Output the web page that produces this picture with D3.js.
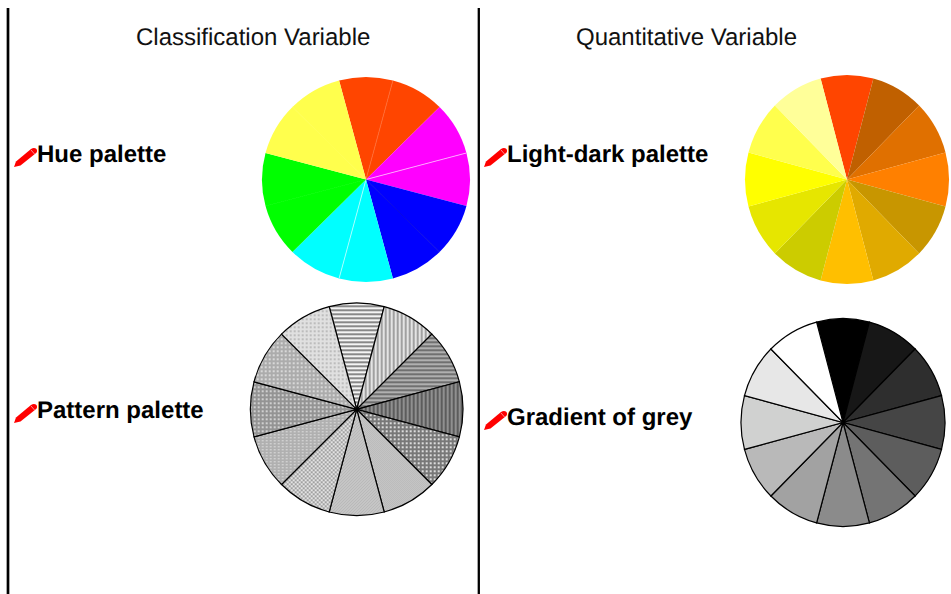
<!DOCTYPE html>
<html lang="en">

<head>
    <meta charset="utf-8">
    <title>palettes</title>
    <script src="https://cdnjs.cloudflare.com/ajax/libs/d3/7.8.5/d3.min.js"></script>
    <style>
        html, body { margin: 0; padding: 0; background: #fff; }
        svg { display: block; font-family: "Liberation Sans", Arial, sans-serif; text-rendering: geometricPrecision; }
        .title { font-size: 24px; fill: #111; }
        .label { font-size: 24px; font-weight: bold; fill: #000; }
    </style>
</head>

<body>
    <script>
        var slices = ['s1', 's2', 's3', 's4', 's5', 's6', 's7', 's8', 's9', 's10', 's11', 's12'];
        var sliceValues = [1, 1, 1, 1, 1, 1, 1, 1, 1, 1, 1, 1];
        var headings = ['Classification Variable', 'Quantitative Variable'];
        var paletteNames = ['Hue palette', 'Pattern palette', 'Light-dark palette', 'Gradient of grey'];

        var hueColors = ['#ff4500', '#ff4500', '#ff00ff', '#ff00ff', '#0000ff', '#0000ff',
            '#00ffff', '#00ffff', '#00ff00', '#00ff00', '#ffff4d', '#ffff4d'];
        // colour of the thin seam on the leading edge of each slice in the hue pie
        var hueSeams = [null, '#ff6a30', null, '#ffb0ff', null, '#0000e0',
            null, '#b0ffff', null, '#00ff00', null, '#ffff4d'];
        var lightDarkColors = ['#ff4500', '#c06000', '#e07000', '#ff8000', '#c89600', '#e0aa00',
            '#ffbf00', '#cccc00', '#e6e600', '#ffff00', '#ffff4d', '#ffff99'];
        var greyColors = ['#000000', '#171717', '#2e2e2e', '#454545', '#5d5d5d', '#747474',
            '#8b8b8b', '#a2a2a2', '#b9b9b9', '#d0d1d0', '#e7e7e7', '#ffffff'];

        var width = 951, height = 594;
        var svg = d3.select('body').append('svg')
            .attr('width', width)
            .attr('height', height);
        var defs = svg.append('defs');

        // little tiles for the pattern pie
        function tile(id, w, h, bg, fg, cells) {
            var p = defs.append('pattern')
                .attr('id', id)
                .attr('patternUnits', 'userSpaceOnUse')
                .attr('width', w)
                .attr('height', h);
            p.append('rect').attr('width', w).attr('height', h).attr('fill', bg);
            cells.forEach(function (c) {
                p.append('rect')
                    .attr('x', c[0]).attr('y', c[1])
                    .attr('width', c[2]).attr('height', c[3])
                    .attr('fill', fg);
            });
        }
        tile('p0', 1, 4, '#f4f4f4', '#888888', [[0, 0, 1, 2]]);
        tile('p1', 4, 1, '#e4e4e4', '#a0a0a0', [[0, 0, 2, 1]]);
        tile('p2', 1, 4, '#b0b0b0', '#707070', [[0, 0, 1, 2]]);
        tile('p3', 4, 1, '#909090', '#5c5c5c', [[0, 0, 2, 1]]);
        tile('p4', 4, 4, '#787878', '#dcdcdc', [[1, 1, 2, 2]]);
        tile('p5', 2, 2, '#d8d8d8', '#a8a8a8', [[0, 0, 1, 1], [1, 1, 1, 1]]);
        tile('p6', 3, 3, '#cccccc', '#acacac', [[0, 2, 1, 1], [1, 1, 1, 1], [2, 0, 1, 1]]);
        tile('p7', 4, 4, '#e4e4e4', '#a0a0a0', [[0, 0, 2, 2], [2, 2, 2, 2]]);
        tile('p8', 4, 3, '#b0b0b0', '#dcdcdc', [[1, 1, 2, 1]]);
        tile('p9', 4, 4, '#949494', '#d0d0d0', [[1, 1, 2, 2]]);
        tile('p10', 4, 4, '#acacac', '#d8d8d8', [[0, 1, 2, 2]]);
        tile('p11', 4, 4, '#e0e0e0', '#bcbcbc', [[1, 1, 2, 2]]);
        var patternFills = d3.range(12).map(function (i) { return 'url(#p' + i + ')'; });

        var pie = d3.pie().sort(null).value(function (d) { return d; })
            .startAngle(-Math.PI / 12)
            .endAngle(2 * Math.PI - Math.PI / 12);

        function drawPie(cx, cy, rx, ry, fills, stroke, seams) {
            var scale = d3.scaleOrdinal().domain(slices).range(fills);
            var arc = d3.arc().innerRadius(0).outerRadius(rx);
            var g = svg.append('g')
                .attr('transform', 'translate(' + cx + ',' + cy + ') scale(1,' + (ry / rx) + ')');
            var arcs = pie(sliceValues);
            g.selectAll('path.slice')
                .data(arcs)
                .enter().append('path')
                .attr('class', 'slice')
                .attr('d', arc)
                .attr('fill', function (d, i) { return scale(slices[i]); })
                .attr('stroke', stroke)
                .attr('stroke-width', stroke === 'none' ? 0 : 1.2);
            if (seams) {
                var seam = d3.lineRadial();
                g.selectAll('path.seam')
                    .data(arcs.filter(function (d, i) { return seams[i]; }))
                    .enter().append('path')
                    .attr('class', 'seam')
                    .attr('d', function (d) { return seam([[d.startAngle, 0], [d.startAngle, rx - 0.5]]); })
                    .attr('fill', 'none')
                    .attr('stroke', function (d) { return seams[d.index]; })
                    .attr('stroke-width', 0.9);
            }
        }

        drawPie(366, 179.5, 104, 102.5, hueColors, 'none', hueSeams);
        drawPie(356.7, 409.3, 106.3, 106.3, patternFills, '#000');
        drawPie(847, 179.5, 102, 104.5, lightDarkColors, 'none');
        drawPie(843, 422.5, 102, 104, greyColors, '#000');

        // frame lines
        svg.append('line').attr('x1', 8).attr('x2', 8).attr('y1', 8).attr('y2', height)
            .attr('stroke', '#000').attr('stroke-width', 2.7);
        svg.append('line').attr('x1', 478.8).attr('x2', 478.8).attr('y1', 8).attr('y2', height)
            .attr('stroke', '#000').attr('stroke-width', 2.3);

        // headings
        svg.append('text').attr('class', 'title').attr('x', 136).attr('y', 45).text(headings[0]);
        svg.append('text').attr('class', 'title').attr('x', 576).attr('y', 45).text(headings[1]);

        // red pencil next to each palette name
        function pencil(x, y) {
            var g = svg.append('g').attr('transform', 'translate(' + x + ',' + y + ')');
            g.append('path')
                .attr('d', 'M0,20 L2,14.5 L17,2 Q20,0 22.5,2 Q24,4.5 21.5,6.5 L6.5,18.5 Z')
                .attr('fill', '#ff0000');
            g.append('path')
                .attr('d', 'M17,3 L20.5,7')
                .attr('stroke', '#ffb0b0').attr('stroke-width', 0.8).attr('fill', 'none');
        }

        function label(x, y, name) {
            pencil(x - 23, y - 15);
            svg.append('text').attr('class', 'label').attr('x', x).attr('y', y).text(name);
        }
        label(37, 162, paletteNames[0]);
        label(37, 418, paletteNames[1]);
        label(507, 162, paletteNames[2]);
        label(507, 425, paletteNames[3]);
    </script>
</body>

</html>
